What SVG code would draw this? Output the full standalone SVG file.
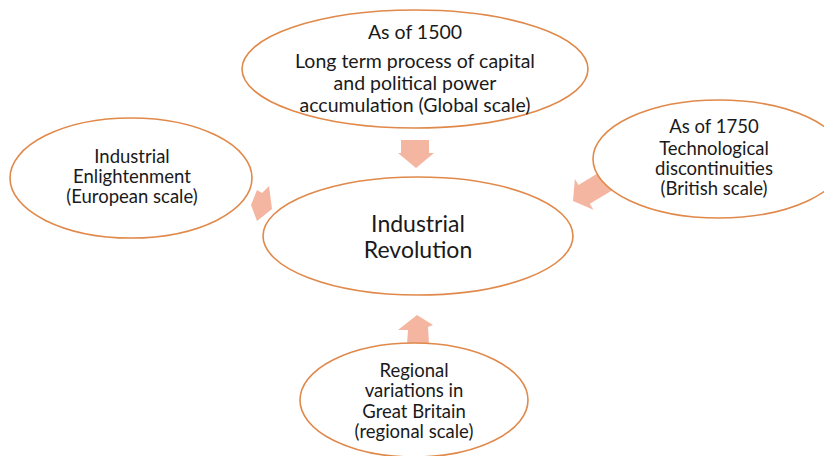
<svg xmlns="http://www.w3.org/2000/svg" width="824" height="456" viewBox="0 0 824 456">
<style>
.bg{fill:#ffffff}
.node{fill:#ffffff;stroke:#E0894A;stroke-width:1.6}
.arrow{fill:#F4B5A1;stroke:none}
.t{font-family:Lato,"Open Sans","Liberation Sans",sans-serif;font-size:18.5px;fill:#1a1a1a;text-anchor:middle}
.tt{font-family:Lato,"Open Sans","Liberation Sans",sans-serif;font-size:19.5px;fill:#1a1a1a;text-anchor:middle}
.tc{font-family:Lato,"Open Sans","Liberation Sans",sans-serif;font-size:23px;fill:#1a1a1a;text-anchor:middle}
</style>
<rect class="bg" x="0" y="0" width="824" height="456"/>
<g id="connectors">
<polygon class="arrow" points="401,140 429,140 429,153 434,153 416,168 398,153 401,153"/>
<polygon class="arrow" points="257,190 262,193 269,186 272,209 257,221 251,205"/>
<polygon class="arrow" transform="translate(573,201) rotate(149)" points="0,0 -13,-18 -13,-11 -50,-11 -50,11 -13,11 -13,18"/>
<polygon class="arrow" points="417,315 433,325 428,327 429,344 407,344 408,330 398,330"/>
</g>
<g id="top">
<ellipse class="node" cx="415" cy="69" rx="173" ry="59"/>
<text class="tt" x="415" y="39">As of 1500</text>
<text class="tt" x="415" y="68">Long term process of capital</text>
<text class="tt" x="415" y="90">and political power</text>
<text class="tt" x="415" y="112">accumulation (Global scale)</text>
</g>
<g id="left">
<ellipse class="node" cx="131" cy="178" rx="121" ry="60"/>
<text class="t" x="132" y="163">Industrial</text>
<text class="t" x="132" y="183">Enlightenment</text>
<text class="t" x="132" y="203">(European scale)</text>
</g>
<g id="right">
<ellipse class="node" cx="719" cy="159" rx="126" ry="59"/>
<text class="t" x="714" y="133">As of 1750</text>
<text class="t" x="714" y="155">Technological</text>
<text class="t" x="714" y="175">discontinuities</text>
<text class="t" x="714" y="195">(British scale)</text>
</g>
<g id="center">
<ellipse class="node" cx="418" cy="236" rx="155" ry="59"/>
<text class="tc" x="418" y="232">Industrial</text>
<text class="tc" x="418" y="258">Revolution</text>
</g>
<g id="bottom">
<ellipse class="node" cx="414" cy="400" rx="114" ry="57"/>
<text class="t" x="414" y="377">Regional</text>
<text class="t" x="414" y="397">variations in</text>
<text class="t" x="414" y="418">Great Britain</text>
<text class="t" x="414" y="438">(regional scale)</text>
</g>
</svg>
